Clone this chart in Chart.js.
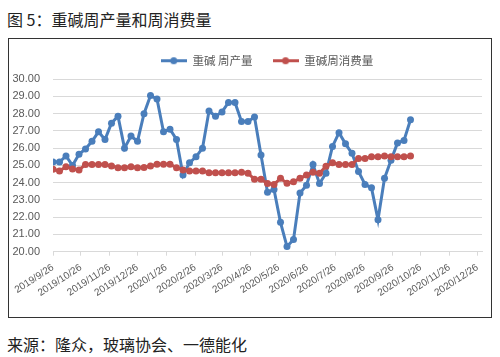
<!DOCTYPE html>
<html><head><meta charset="utf-8">
<script src="https://cdn.jsdelivr.net/npm/chart.js@4.4.1/dist/chart.umd.min.js"></script>
<style>
html,body{margin:0;padding:0;background:#fff;width:500px;height:357px;overflow:hidden;}
#title{position:absolute;left:7px;top:8px;font-family:"Noto Sans CJK SC";font-size:16px;line-height:22px;color:#222;white-space:nowrap;}
#box{position:absolute;left:8px;top:38px;width:482px;height:278px;border:1px solid #333;}
#wrap{position:absolute;left:9px;top:35px;width:482px;height:282px;}
#foot{position:absolute;left:7px;top:333px;font-family:"Noto Sans CJK SC";font-size:16px;line-height:22px;color:#222;white-space:nowrap;}
</style></head>
<body>
<div id="title">图 5：重碱周产量和周消费量</div>
<div id="box"></div>
<div id="wrap"><canvas id="c" width="482" height="282"></canvas></div>
<div id="foot">来源：隆众，玻璃协会、一德能化</div>
<script>
const dates = ['2019/9/26','2019/10/3','2019/10/10','2019/10/17','2019/10/24','2019/10/31','2019/11/7','2019/11/14','2019/11/21','2019/11/28',
'2019/12/5','2019/12/12','2019/12/19','2019/12/26','2020/1/2','2020/1/9','2020/1/16','2020/1/23','2020/1/30','2020/2/6',
'2020/2/13','2020/2/20','2020/2/27','2020/3/5','2020/3/12','2020/3/19','2020/3/26','2020/4/2','2020/4/9','2020/4/16',
'2020/4/23','2020/4/30','2020/5/7','2020/5/14','2020/5/21','2020/5/28','2020/6/4','2020/6/11','2020/6/18','2020/6/25',
'2020/7/2','2020/7/9','2020/7/16','2020/7/23','2020/7/30','2020/8/6','2020/8/13','2020/8/20','2020/8/27','2020/9/3',
'2020/9/10','2020/9/17','2020/9/24','2020/10/1','2020/10/8','2020/10/15'];
const production = [25.2,25.2,25.55,25.0,25.65,25.95,26.4,26.95,26.5,27.45,
27.85,26.0,26.7,26.4,28.0,29.05,28.85,26.95,27.1,26.5,
24.45,25.15,25.5,26.0,28.15,27.85,28.1,28.65,28.65,27.55,
27.55,27.8,25.6,23.45,23.6,21.7,20.3,20.7,23.4,23.85,
25.05,23.95,24.55,26.1,26.9,26.25,25.7,24.65,23.9,23.7,
21.85,24.25,25.3,26.3,26.45,27.65];
const consumption = [24.78,24.68,24.93,24.8,24.74,25.05,25.05,25.05,25.05,24.97,
24.87,24.87,24.93,24.87,24.88,24.97,25.07,25.07,25.07,24.87,
24.74,24.68,24.68,24.68,24.58,24.57,24.57,24.57,24.58,24.6,
24.55,24.2,24.2,23.95,23.9,24.25,23.97,24.05,24.25,24.45,
24.6,24.55,24.95,25.15,25.05,25.05,25.05,25.4,25.4,25.5,
25.5,25.55,25.5,25.5,25.5,25.55];
const tickLabels = ['2019/9/26','2019/10/26','2019/11/26','2019/12/26','2020/1/26','2020/2/26','2020/3/26','2020/4/26',
'2020/5/26','2020/6/26','2020/7/26','2020/8/26','2020/9/26','2020/10/26','2020/11/26','2020/12/26'];
const axisEnd = '2020/12/31';
const seriesNames = ['重碱 周产量','重碱周消费量'];
const seriesColors = ['#4A7EBB','#C0504D'];

function toUTC(s){const p=s.split('/').map(Number);return Date.UTC(p[0],p[1]-1,p[2]);}
const origin = toUTC(dates[0]);
function dayOf(s){return (toUTC(s)-origin)/864e5;}

function legendIcon(color){
  const c=document.createElement('canvas');c.width=26;c.height=9;
  const g=c.getContext('2d');
  g.strokeStyle=color;g.lineWidth=3;g.beginPath();g.moveTo(0,4.5);g.lineTo(26,4.5);g.stroke();
  g.fillStyle=color;g.beginPath();g.arc(13,4.5,3.5,0,Math.PI*2);g.fill();
  return c;
}
const icons = seriesColors.map(legendIcon);

const legendFitFix = {id:'legendFitFix', beforeInit(chart){
  const l=chart.legend; const f=l.fit;
  l.fit=function(){f.call(this); this.height+=2.65; if(this.lineWidths&&this.lineWidths.length){this.lineWidths[0]-=43;}};
}};

const mk=(vals,i)=>({
  label:seriesNames[i],
  data:vals.map((v,k)=>({x:dayOf(dates[k]),y:v})),
  borderColor:seriesColors[i],backgroundColor:seriesColors[i],
  borderWidth:3,pointRadius:3.5,pointBorderWidth:0,pointHoverRadius:3.5,
  tension:0,order:i===0?1:0
});

new Chart(document.getElementById('c'),{
  type:'line',
  data:{datasets:[mk(production,0),mk(consumption,1)]},
  options:{
    responsive:false,animation:false,
    layout:{padding:{left:0,right:9,top:0,bottom:0}},
    plugins:{
      tooltip:{enabled:false},
      legend:{display:true,position:'top',align:'center',
        labels:{usePointStyle:true,pointStyleWidth:26,padding:20,color:'#595959',
          font:{family:'"Noto Sans CJK SC"',size:11.5},
          generateLabels:(chart)=>seriesNames.map((n,i)=>({text:n,pointStyle:icons[i],fillStyle:seriesColors[i],strokeStyle:seriesColors[i],lineWidth:0,datasetIndex:i,fontColor:'#595959'}))
        }}
    },
    scales:{
      x:{type:'linear',min:dayOf(tickLabels[0]),max:dayOf(axisEnd),
        afterBuildTicks:(s)=>{s.ticks=tickLabels.map(t=>({value:dayOf(t)}));},
        afterFit:(s)=>{s.height=65.3;},
        grid:{drawOnChartArea:false,drawTicks:true,tickLength:4,color:'#d9d9d9'},
        border:{display:true,color:'#d9d9d9',width:1},
        ticks:{autoSkip:false,maxRotation:33,minRotation:33,padding:6,color:'#595959',
          font:{family:'"Liberation Sans"',size:10},
          callback:(v,i)=>tickLabels[i]}
      },
      y:{min:20,max:30,
        afterFit:(s)=>{s.width=44;},
        grid:{color:'#d9d9d9',drawTicks:false},
        border:{display:false},
        ticks:{stepSize:1,padding:13,color:'#595959',font:{family:'"Liberation Sans"',size:11},
          callback:(v)=>v.toFixed(2)}
      }
    }
  },
  plugins:[legendFitFix]
});
</script>
</body></html>
